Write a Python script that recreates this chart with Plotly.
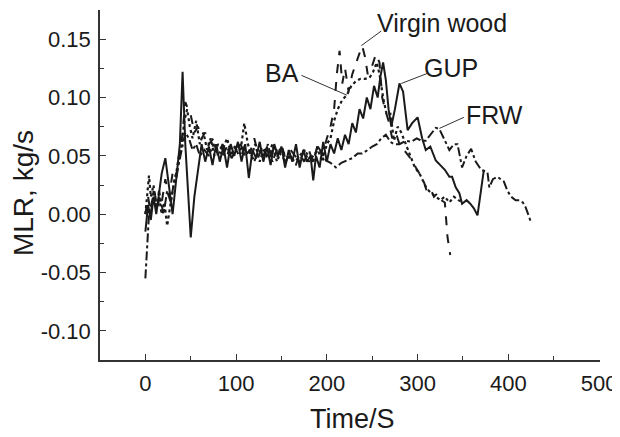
import plotly.graph_objects as go

# ---------------- data ----------------
gup_t = [0,3,6,9,12,15,18,22,26,30,34,38,41,44,47,50,54,58,62,66,70,74,78,82,86,90,94,98,102,106,110,114,118,122,126,130,134,138,142,146,150,154,158,162,166,170,174,178,182,185,188,192,196,200,204,208,212,216,220,224,228,232,236,240,244,248,252,256,259,262,265,268,271,275,280,284,289,294,300,305,309,314,320,325,330,335,338,342,346,349,354,358,362,366,370,373]
gup_v = [-0.015,0.008,-0.005,0.015,0.0,0.02,0.035,0.048,0.025,0.0,0.03,0.06,0.122,0.06,0.02,-0.02,0.015,0.04,0.06,0.045,0.058,0.042,0.06,0.045,0.058,0.04,0.06,0.05,0.062,0.045,0.06,0.031,0.055,0.048,0.062,0.045,0.058,0.042,0.06,0.05,0.058,0.04,0.055,0.045,0.06,0.04,0.055,0.045,0.05,0.029,0.05,0.04,0.062,0.045,0.06,0.052,0.065,0.055,0.068,0.06,0.078,0.07,0.09,0.082,0.1,0.09,0.11,0.1,0.118,0.13,0.115,0.09,0.075,0.09,0.112,0.105,0.072,0.078,0.083,0.065,0.055,0.058,0.046,0.042,0.038,0.032,0.032,0.023,0.018,0.009,0.012,0.009,0.005,-0.001,0.02,0.038]

virgin_t = [0,3,6,9,12,15,18,22,26,30,34,38,41,44,47,50,54,58,62,66,70,75,80,85,90,95,100,105,110,115,120,125,130,135,140,145,150,155,160,165,170,175,180,185,190,195,200,204,208,211,214,217,220,224,228,232,236,239,242,245,249,254,258,261,264,268,272,276,280,285,290,294,298,302,306,310,314,318,322,326,330,333,336]
virgin_v = [0.0,0.015,0.0,0.02,0.005,0.02,0.01,0.03,0.015,0.035,0.03,0.05,0.07,0.096,0.09,0.085,0.07,0.075,0.065,0.07,0.06,0.065,0.05,0.06,0.05,0.062,0.055,0.048,0.06,0.052,0.065,0.05,0.06,0.045,0.055,0.048,0.06,0.045,0.05,0.04,0.052,0.045,0.055,0.045,0.06,0.05,0.065,0.075,0.09,0.12,0.14,0.112,0.125,0.105,0.12,0.13,0.138,0.144,0.135,0.12,0.125,0.137,0.13,0.1,0.09,0.08,0.065,0.07,0.06,0.055,0.05,0.046,0.04,0.035,0.03,0.02,0.022,0.015,0.018,0.012,0.01,-0.02,-0.035]

ba_t = [0,2,4,6,9,12,15,18,21,24,27,30,34,37,40,43,46,49,52,56,60,64,68,72,76,80,85,90,95,100,105,109,113,117,121,126,130,135,140,145,150,155,160,165,170,175,180,185,190,195,200,204,208,212,217,222,227,232,237,242,247,251,255,258,262,266,270,274,278,282,287,292,297,302,306,310,315,320,325,330,335,340,345,350]
ba_v = [0.0,0.02,0.033,0.015,0.025,0.005,0.015,0.0,0.01,-0.01,0.005,0.02,0.035,0.05,0.06,0.08,0.09,0.075,0.065,0.08,0.06,0.07,0.055,0.065,0.05,0.06,0.055,0.065,0.05,0.06,0.055,0.078,0.06,0.05,0.06,0.045,0.055,0.05,0.06,0.045,0.055,0.05,0.048,0.045,0.05,0.055,0.045,0.05,0.055,0.045,0.06,0.065,0.08,0.09,0.098,0.102,0.11,0.114,0.116,0.116,0.117,0.122,0.13,0.12,0.1,0.085,0.086,0.063,0.075,0.07,0.06,0.05,0.04,0.035,0.028,0.022,0.018,0.015,0.012,0.015,0.01,0.015,0.012,0.01]

frw_t = [0,2,4,7,10,13,16,20,24,28,32,36,40,44,48,52,56,60,65,70,75,80,85,90,95,100,105,110,115,120,125,130,135,140,145,150,155,160,165,170,175,180,185,190,195,199,204,210,216,222,228,234,239,245,250,255,260,265,270,274,280,287,293,299,304,309,314,320,324,329,335,340,344,347,349,354,359,364,370,377,379,383,388,395,399,403,408,412,416,419,425]
frw_v = [-0.055,-0.03,0.0,0.01,0.02,0.005,0.015,0.0,0.02,0.01,0.03,0.04,0.055,0.07,0.065,0.055,0.06,0.05,0.055,0.05,0.06,0.055,0.05,0.058,0.048,0.055,0.06,0.05,0.055,0.045,0.055,0.05,0.06,0.045,0.055,0.05,0.045,0.055,0.05,0.045,0.055,0.05,0.045,0.058,0.052,0.046,0.044,0.04,0.044,0.046,0.048,0.052,0.052,0.055,0.058,0.06,0.065,0.068,0.062,0.06,0.06,0.063,0.062,0.065,0.063,0.063,0.068,0.074,0.073,0.065,0.055,0.06,0.06,0.048,0.04,0.05,0.056,0.045,0.038,0.036,0.023,0.03,0.032,0.028,0.02,0.015,0.012,0.012,0.01,0.006,-0.007]

labels = ["Virgin wood", "BA", "GUP", "FRW"]
label_x = [327, 151, 337, 385]
label_y = [0.164, 0.121, 0.125, 0.0846]
# pointer lines: (x0, y0) at label, (x1, y1) at curve
ptr_x0 = [260, 172, 310.6, 351]
ptr_y0 = [0.157, 0.119, 0.1206, 0.083]
ptr_x1 = [238, 222, 282, 324]
ptr_y1 = [0.1445, 0.102, 0.112, 0.0735]

x_ticks = [0, 100, 200, 300, 400, 500]
y_ticks = [-0.10, -0.05, 0.00, 0.05, 0.10, 0.15]

FONT = "Liberation Sans, Arial, sans-serif"
INK = "#1a1a1a"

fig = go.Figure()
fig.add_trace(go.Scatter(x=virgin_t, y=virgin_v, mode="lines", name="Virgin wood",
                         line=dict(color=INK, width=2, dash="dash")))
fig.add_trace(go.Scatter(x=ba_t, y=ba_v, mode="lines", name="BA",
                         line=dict(color=INK, width=2.2, dash="dot")))
fig.add_trace(go.Scatter(x=frw_t, y=frw_v, mode="lines", name="FRW",
                         line=dict(color=INK, width=2, dash="dashdot")))
fig.add_trace(go.Scatter(x=gup_t, y=gup_v, mode="lines", name="GUP",
                         line=dict(color=INK, width=2)))

for i, lab in enumerate(labels):
    fig.add_annotation(x=label_x[i], y=label_y[i], text=lab, showarrow=False,
                       xref="x", yref="y", font=dict(family=FONT, size=25, color=INK))
    fig.add_shape(type="line", xref="x", yref="y", x0=ptr_x0[i], y0=ptr_y0[i],
                  x1=ptr_x1[i], y1=ptr_y1[i], line=dict(color="#333", width=1))

# axis titles
fig.add_annotation(x=0.504, y=-0.169, xref="paper", yref="paper", text="Time/S",
                   showarrow=False, xanchor="center", yanchor="middle",
                   font=dict(family=FONT, size=27, color=INK))
fig.add_annotation(x=-0.154, y=0.477, xref="paper", yref="paper", text="MLR, kg/s",
                   showarrow=False, xanchor="center", yanchor="middle", textangle=-90,
                   font=dict(family=FONT, size=28, color=INK))

axis_common = dict(showline=True, linecolor="#333", linewidth=1.5, ticks="inside",
                   ticklen=6, tickwidth=1.3, tickcolor="#333", showgrid=False,
                   zeroline=False, mirror=False, automargin=False, ticklabelstandoff=3,
                   tickfont=dict(family=FONT, size=22, color=INK))

fig.update_xaxes(range=[-50, 501], tickvals=x_ticks, ticktext=[str(v) for v in x_ticks],
                 minor=dict(ticks="inside", ticklen=4, tickwidth=1.2, tickcolor="#333", dtick=50, tick0=0),
                 **axis_common)
fig.update_yaxes(range=[-0.125, 0.175], tickvals=y_ticks, ticktext=[f"{v:.2f}" for v in y_ticks],
                 minor=dict(ticks="inside", ticklen=4, tickwidth=1.2, tickcolor="#333", dtick=0.025, tick0=0),
                 **axis_common)

# the page body adds an 8px offset, so the figure is 8px smaller and margins shifted
fig.update_layout(width=612, height=429, margin=dict(l=92, r=20, t=2, b=77),
                  paper_bgcolor="white", plot_bgcolor="white", showlegend=False)

fig.write_html("out.html")
